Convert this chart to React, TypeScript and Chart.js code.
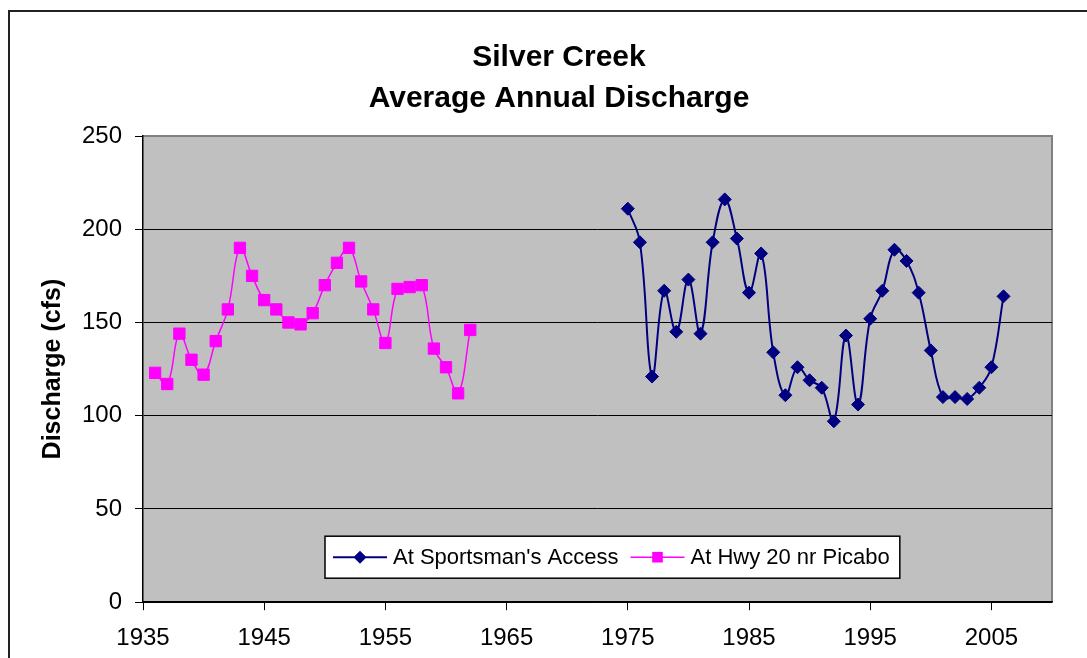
import React, { useEffect, useRef } from 'react';
import { Chart, registerables } from 'chart.js';

Chart.register(...registerables);

const FONT = "'Liberation Sans', Arial, Helvetica, sans-serif";

const titleLines = ['Silver Creek', 'Average Annual Discharge'];
const yAxisTitle = 'Discharge (cfs)';
const xTickValues = [1935, 1945, 1955, 1965, 1975, 1985, 1995, 2005];

const sportsmanLabel = "At Sportsman's Access";
const sportsmanYears = [
  1975, 1976, 1977, 1978, 1979, 1980, 1981, 1982, 1983, 1984, 1985, 1986, 1987, 1988, 1989, 1990,
  1991, 1992, 1993, 1994, 1995, 1996, 1997, 1998, 1999, 2000, 2001, 2002, 2003, 2004, 2005, 2006,
];
const sportsmanValues = [
  211, 193, 121, 167, 145, 173, 144, 193, 216, 195, 166, 187, 134, 111, 126, 119,
  115, 97, 143, 106, 152, 167, 189, 183, 166, 135, 110, 110, 109, 115, 126, 164,
];

const picaboLabel = 'At Hwy 20 nr Picabo';
const picaboYears = [
  1936, 1937, 1938, 1939, 1940, 1941, 1942, 1943, 1944, 1945, 1946, 1947, 1948, 1949,
  1950, 1951, 1952, 1953, 1954, 1955, 1956, 1957, 1958, 1959, 1960, 1961, 1962,
];
const picaboValues = [
  123, 117, 144, 130, 122, 140, 157, 190, 175, 162, 157, 150, 149, 155,
  170, 182, 190, 172, 157, 139, 168, 169, 170, 136, 126, 112, 146,
];

const NAVY = '#000080';
const PINK = '#FF00FF';

const plotBgPlugin = {
  id: 'plotBg',
  beforeDraw(chart: any) {
    const { ctx, chartArea: a } = chart;
    ctx.save();
    ctx.fillStyle = '#C0C0C0';
    ctx.fillRect(a.left, a.top, a.right - a.left, a.bottom - a.top);
    ctx.strokeStyle = '#808080';
    ctx.lineWidth = 2;
    ctx.beginPath();
    ctx.moveTo(a.left, a.top);
    ctx.lineTo(a.right, a.top);
    ctx.lineTo(a.right, a.bottom);
    ctx.stroke();
    ctx.restore();
  },
};

function drawMarker(ctx: CanvasRenderingContext2D, style: string, x: number, y: number, r: number, color: string) {
  ctx.fillStyle = color;
  ctx.beginPath();
  if (style === 'rectRot') {
    ctx.moveTo(x, y - r);
    ctx.lineTo(x + r, y);
    ctx.lineTo(x, y + r);
    ctx.lineTo(x - r, y);
    ctx.closePath();
  } else {
    const s = r * Math.SQRT1_2;
    ctx.rect(x - s, y - s, 2 * s, 2 * s);
  }
  ctx.fill();
}

const insideLegendPlugin = {
  id: 'insideLegend',
  afterDraw(chart: any) {
    const { ctx, chartArea: a } = chart;
    const datasets = chart.data.datasets;
    ctx.save();
    ctx.font = `22px ${FONT}`;
    const lineLen = 54;
    const gapLT = 6;
    const gapItems = 12;
    const padL = 8;
    const padR = 10;
    const boxH = 42;
    const widths = datasets.map((d: any) => ctx.measureText(d.label).width);
    let total = padL + padR + gapItems * (datasets.length - 1);
    widths.forEach((w: number) => (total += lineLen + gapLT + w));
    const left = a.left + 182;
    const top = a.bottom - 66;
    ctx.fillStyle = '#FFFFFF';
    ctx.fillRect(left, top, total, boxH);
    ctx.strokeStyle = '#000';
    ctx.lineWidth = 1.5;
    ctx.strokeRect(left, top, total, boxH);
    const cy = top + boxH / 2;
    let x = left + padL;
    datasets.forEach((d: any, i: number) => {
      ctx.strokeStyle = d.borderColor;
      ctx.lineWidth = d.borderWidth;
      ctx.beginPath();
      ctx.moveTo(x, cy);
      ctx.lineTo(x + lineLen, cy);
      ctx.stroke();
      drawMarker(ctx, d.pointStyle, x + lineLen / 2, cy, d.pointStyle === 'rectRot' ? 6.5 : 7.5, d.borderColor);
      ctx.fillStyle = '#000';
      ctx.textAlign = 'left';
      ctx.textBaseline = 'middle';
      ctx.fillText(d.label, x + lineLen + gapLT, cy + 1);
      x += lineLen + gapLT + widths[i] + gapItems;
    });
    ctx.restore();
  },
};

export default function App() {
  const ref = useRef<HTMLCanvasElement>(null);

  useEffect(() => {
    if (!ref.current) return;
    const chart = new Chart(ref.current, {
      type: 'line',
      data: {
        datasets: [
          {
            label: sportsmanLabel,
            data: sportsmanYears.map((x, i) => ({ x, y: sportsmanValues[i] })),
            borderColor: NAVY,
            backgroundColor: NAVY,
            borderWidth: 2,
            pointStyle: 'rectRot',
            pointRadius: 6.5,
            pointBorderWidth: 1,
            pointBackgroundColor: NAVY,
            pointBorderColor: NAVY,
            tension: 0.4,
            fill: false,
          },
          {
            label: picaboLabel,
            data: picaboYears.map((x, i) => ({ x, y: picaboValues[i] })),
            borderColor: PINK,
            backgroundColor: PINK,
            borderWidth: 1.5,
            pointStyle: 'rect',
            pointRadius: 8,
            pointBorderWidth: 1,
            pointBackgroundColor: PINK,
            pointBorderColor: PINK,
            tension: 0.4,
            fill: false,
          },
        ],
      },
      options: {
        responsive: false,
        animation: false,
        devicePixelRatio: 1,
        layout: { padding: { left: 0, right: 8, top: 0, bottom: 41 } },
        plugins: {
          legend: { display: false },
          tooltip: { enabled: false },
          title: {
            display: true,
            text: titleLines,
            color: '#000',
            font: { family: FONT, size: 30, weight: 'bold', lineHeight: 41 / 30 },
            padding: { top: 25, bottom: 17 },
          },
        },
        scales: {
          x: {
            type: 'linear',
            min: 1935,
            max: 2010,
            afterBuildTicks: (s: any) => {
              s.ticks = xTickValues.map((v) => ({ value: v }));
            },
            grid: { drawOnChartArea: false, drawTicks: true, tickLength: 8, tickColor: '#000', tickWidth: 1 },
            border: { display: true, color: '#000', width: 1.5 },
            ticks: {
              color: '#000',
              font: { family: FONT, size: 24 },
              padding: 14,
              maxRotation: 0,
              autoSkip: false,
              callback: (v: any) => String(v),
            },
          },
          y: {
            min: 0,
            max: 250,
            ticks: { stepSize: 50, color: '#000', font: { family: FONT, size: 24 }, padding: 13 },
            grid: {
              color: (c: any) => (c.tick && c.tick.value === 250 ? 'rgba(0,0,0,0)' : '#000'),
              lineWidth: 1,
              tickLength: 8,
              tickColor: '#000',
            },
            border: { color: '#000', width: 1.5 },
            title: {
              display: true,
              text: yAxisTitle,
              color: '#000',
              font: { family: FONT, size: 25, weight: 'bold' },
              padding: { top: 28, bottom: 0 },
            },
            afterFit: (s: any) => {
              s.width = 133;
            },
          },
          yRight: {
            position: 'right',
            display: true,
            grid: { display: false },
            border: { display: false },
            ticks: { display: false },
            afterFit: (s: any) => {
              s.width = 56;
            },
          },
        },
      },
      plugins: [plotBgPlugin, insideLegendPlugin],
    } as any);
    return () => chart.destroy();
  }, []);

  return (
    <div
      style={{
        position: 'fixed',
        left: 0,
        top: 0,
        width: '100vw',
        height: '100vh',
        overflow: 'hidden',
        background: '#fff',
      }}
    >
      <div
        style={{
          position: 'absolute',
          left: 8,
          top: 10,
          width: 1110,
          height: 700,
          border: '2px solid #222',
          boxSizing: 'border-box',
          background: '#fff',
        }}
      >
        <canvas ref={ref} width={1106} height={696} style={{ display: 'block' }} />
      </div>
    </div>
  );
}
